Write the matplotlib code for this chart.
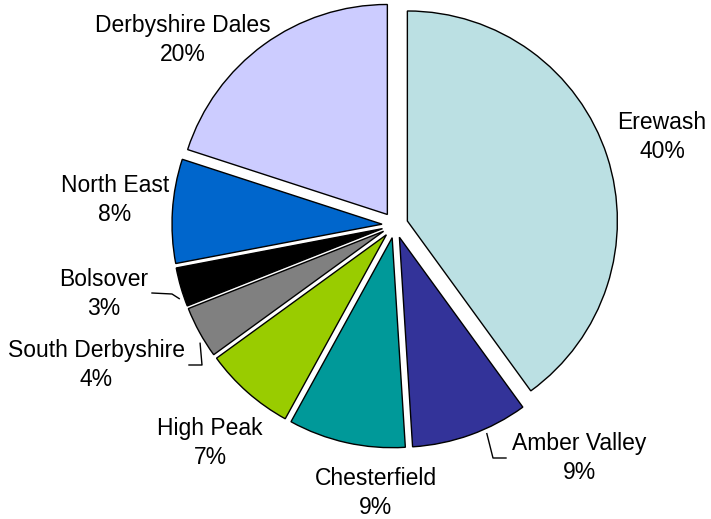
import numpy as np
import matplotlib
matplotlib.use('Agg')
import matplotlib.pyplot as plt

plt.rcParams['font.family'] = ['Liberation Sans', 'DejaVu Sans']

# data: clockwise from 12 o'clock
districts = ['Erewash', 'Amber Valley', 'Chesterfield', 'High Peak',
             'South Derbyshire', 'Bolsover', 'North East', 'Derbyshire Dales']
shares = [40, 9, 9, 7, 4, 3, 8, 20]
colors = ['#BBE0E3', '#333399', '#009999', '#99CC00',
          '#808080', '#000000', '#0066CC', '#CCCCFF']

W, H = 711, 519
cx, cy = 395, H - 225   # pie centre in pixel units (y from bottom)
R = 210
gap = 13

fig = plt.figure(figsize=(W / 100, H / 100), dpi=100)
ax = fig.add_axes([0, 0, 1, 1])

wedges, _ = ax.pie(shares, colors=colors, startangle=90, counterclock=False,
                   center=(cx, cy), radius=R, explode=[gap] * len(shares),
                   wedgeprops=dict(edgecolor='black', linewidth=1.0),
                   frame=True)
ax.set_xlim(0, W)
ax.set_ylim(0, H)
ax.set_aspect('equal')
ax.axis('off')

# label positions (pixel, from top)
label_pos = {
    'Erewash': (662, 137),
    'Amber Valley': (579, 458),
    'Chesterfield': (376, 493),
    'High Peak': (210, 443),
    'South Derbyshire': (96, 365),
    'Bolsover': (104, 294),
    'North East': (115, 200),
    'Derbyshire Dales': (183, 40),
}
for name, val in zip(districts, shares):
    x, y = label_pos[name]
    ax.text(x, H - y, f'{name}\n{val}%', ha='center', va='center',
            fontsize=16.5, linespacing=1.35, color='black')


def edge_point(wedge, ang, rad):
    # ang: degrees clockwise from 12 o'clock
    wx, wy = wedge.center
    a = np.deg2rad(90 - ang)
    return wx + rad * np.cos(a), wy + rad * np.sin(a)


idx = {n: i for i, n in enumerate(districts)}
leaders = [
    ('Amber Valley', 156, [(493, 458), (506, 458)]),
    ('Bolsover', 251, [(172, 294), (152, 293)]),
    ('South Derbyshire', 238.6, [(202, 365), (189, 365)]),
]
for name, ang, pts in leaders:
    px, py = edge_point(wedges[idx[name]], ang, R + 5)
    xs = [px] + [p[0] for p in pts]
    ys = [py] + [H - p[1] for p in pts]
    ax.plot(xs, ys, color='black', linewidth=1.0)

fig.savefig('out.png', dpi=100)
